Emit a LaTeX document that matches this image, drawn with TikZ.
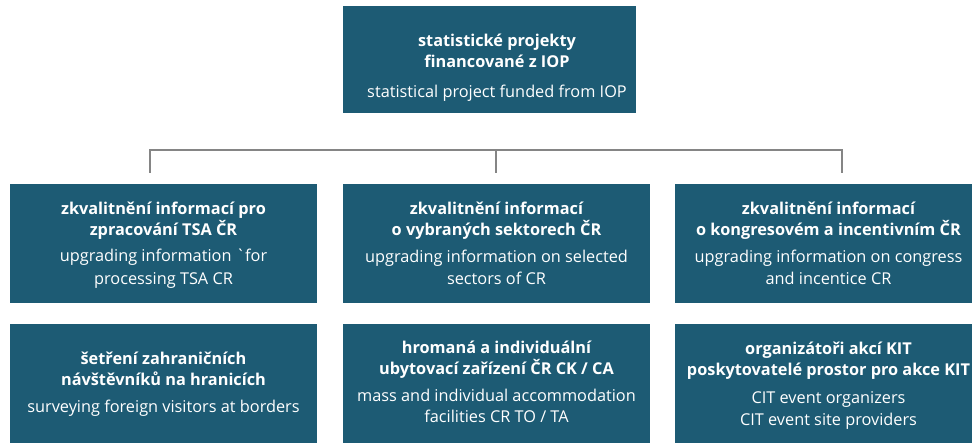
\documentclass[tikz,border=0pt]{standalone}
\usepackage{fontspec}
\setmainfont{Open Sans}
\definecolor{boxteal}{HTML}{1D5B74}
\definecolor{linegray}{HTML}{858585}
\begin{document}
\begin{tikzpicture}[x=1pt,y=-1pt,
  box/.style={fill=boxteal,draw=none,inner sep=0pt,minimum width=307pt,minimum height=119pt},
  bt/.style={text=white,anchor=base,inner sep=0pt,font=\fontsize{16.3}{19}\selectfont\bfseries},
  rt/.style={text=white,anchor=base,inner sep=0pt,font=\fontsize{16.3}{19}\selectfont},
  conn/.style={draw=linegray,line width=1.1pt}]
\useasboundingbox (0,0) rectangle (972,443);
% top box
\node[box,minimum width=293pt,minimum height=107pt] (top) at (489.5,59.5) {};
\node[bt] (top1) at (497,47) {statistické projekty};
\node[bt] (top2) at (497,68) {financované z IOP};
\node[rt] (top3) at (497,98) {statistical project funded from IOP};
% bracket
\coordinate (hl) at (150,150);
\coordinate (hm) at (496,150);
\coordinate (hr) at (842,150);
\coordinate (t1) at (150,173);
\coordinate (t2) at (496,173);
\coordinate (t3) at (842,173);
\draw[conn] (t1) -- (hl) -- (hr) -- (t3);
\draw[conn] (hm) -- (t2);
% row 1
\node[box] (a1) at (163.5,243.5) {};
\node[box] (a2) at (496.5,243.5) {};
\node[box] (a3) at (828.5,243.5) {};
\node[bt] (a1l1) at (163.5,215) {zkvalitnění informací pro};
\node[bt] (a1l2) at (163.5,236) {zpracování TSA ČR};
\node[rt] (a1l3) at (163.5,262) {upgrading information \textasciigrave for};
\node[rt] (a1l4) at (163.5,285) {processing TSA CR};
\node[bt] (a2l1) at (496.5,215) {zkvalitnění informací};
\node[bt] (a2l2) at (496.5,236) {o vybraných sektorech ČR};
\node[rt] (a2l3) at (496.5,263) {upgrading information on selected};
\node[rt] (a2l4) at (496.5,285) {sectors of CR};
\node[bt] (a3l1) at (828.5,215) {zkvalitnění informací};
\node[bt] (a3l2) at (828.5,236) {o kongresovém a incentivním ČR};
\node[rt] (a3l3) at (828.5,263) {upgrading information on congress};
\node[rt] (a3l4) at (828.5,285) {and incentice CR};
% row 2
\node[box] (b1) at (163.5,383.5) {};
\node[box] (b2) at (496.5,383.5) {};
\node[box] (b3) at (828.5,383.5) {};
\node[bt] (b1l1) at (163.5,365) {šetření zahraničních};
\node[bt] (b1l2) at (163.5,386) {návštěvníků na hranicích};
\node[rt] (b1l3) at (163.5,413) {surveying foreign visitors at borders};
\node[bt] (b2l1) at (496.5,354) {hromaná a individuální};
\node[bt] (b2l2) at (496.5,375) {ubytovací zařízení ČR CK / CA};
\node[rt] (b2l3) at (496.5,402) {mass and individual accommodation};
\node[rt] (b2l4) at (496.5,423) {facilities CR TO / TA};
\node[bt] (b3l1) at (828.5,355) {organizátoři akcí KIT};
\node[bt] (b3l2) at (828.5,376) {poskytovatelé prostor pro akce KIT};
\node[rt] (b3l3) at (828.5,404) {CIT event organizers};
\node[rt] (b3l4) at (828.5,425) {CIT event site providers};
\end{tikzpicture}
\end{document}
